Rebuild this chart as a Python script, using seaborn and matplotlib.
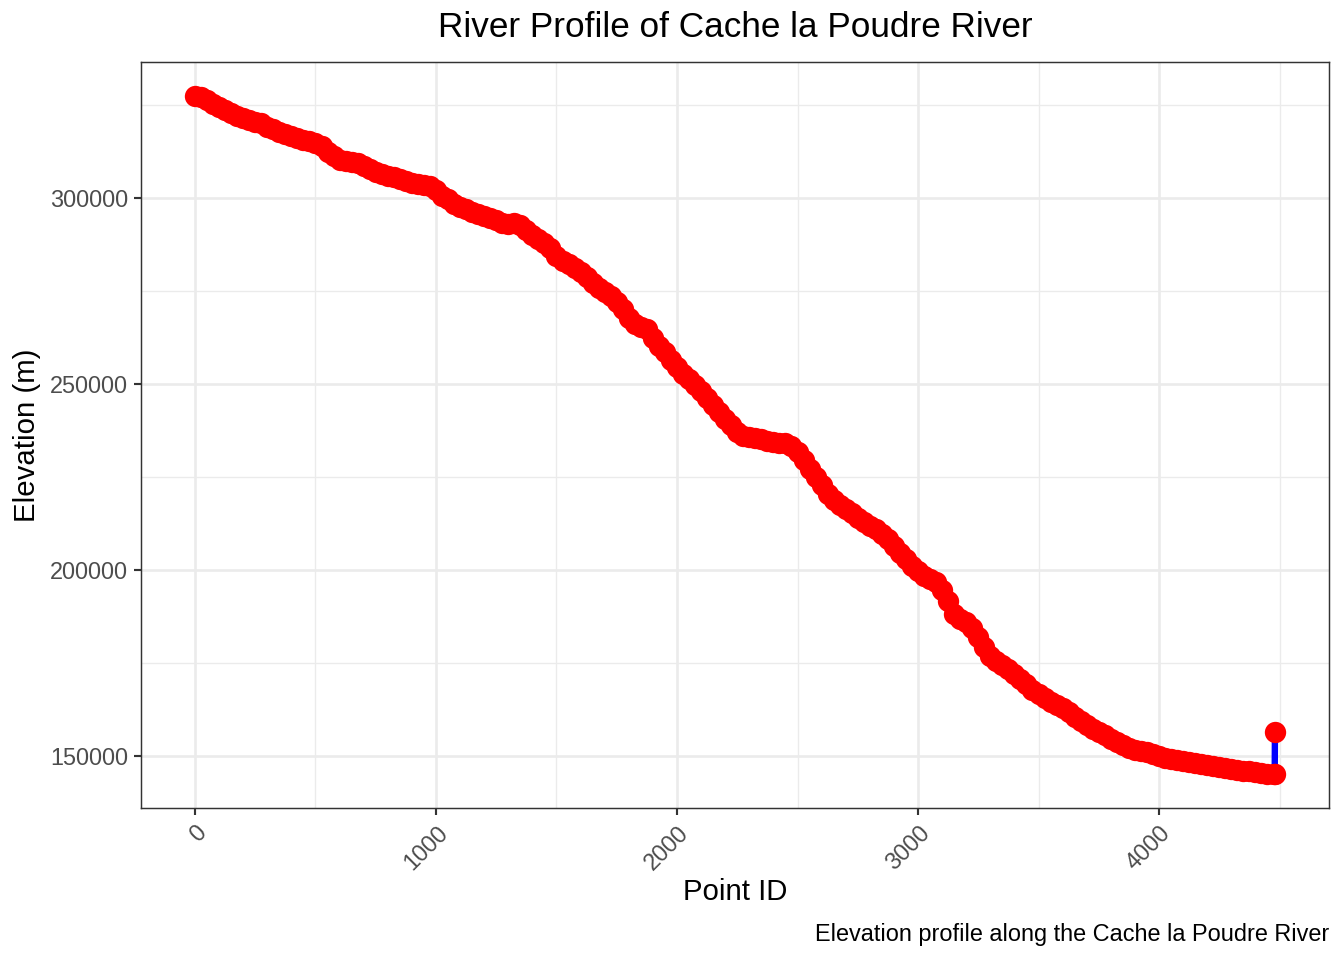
import numpy as np
import pandas as pd
import seaborn as sns
import matplotlib.pyplot as plt
from matplotlib.ticker import MultipleLocator

# point ids sampled every 25 along the river, last two are the end points
point_id = list(range(0, 4476, 25)) + [4480, 4481]

elevation = [
    327400, 327100, 326300, 325300, 324500, 323700, 322800, 322000, 321500, 321000,
    320400, 320200, 319100, 318500, 317700, 317200, 316700, 316100, 315600, 315300,
    314800, 314000, 312400, 311300, 310200, 309900, 309700, 309400, 308600, 307800,
    307000, 306500, 305900, 305600, 305100, 304600, 304000, 303800, 303500, 303200,
    302200, 300500, 299700, 298400, 297600, 297000, 296200, 295700, 295200, 294600,
    294100, 293300, 293000, 293300, 292700, 291400, 290100, 289000, 287900, 286600,
    284400, 283100, 282300, 281200, 280100, 278800, 277200, 275800, 274700, 273700,
    272000, 270200, 267700, 266100, 265300, 264800, 262400, 260200, 258600, 256500,
    254600, 252700, 251300, 249700, 248100, 246200, 244400, 242500, 240600, 239000,
    237100, 236000, 235800, 235500, 235200, 234700, 234400, 234100, 234100, 233300,
    231700, 229600, 227200, 225000, 222900, 220400, 218800, 217500, 216400, 215300,
    214000, 212900, 211800, 211000, 209700, 208300, 206500, 204600, 203000, 201100,
    199700, 198400, 197600, 196800, 194600, 191700, 188200, 186800, 186000, 184400,
    182000, 179300, 176900, 175500, 174500, 173400, 172100, 170700, 169400, 167800,
    166700, 165600, 164500, 163700, 162900, 161800, 160500, 159400, 158300, 157300,
    156500, 155700, 154600, 153800, 153000, 152200, 151600, 151400, 151100, 150600,
    150000, 149500, 149200, 148900, 148700, 148400, 148100, 147900, 147600, 147300,
    147000, 146800, 146500, 146200, 146000, 146000, 145700, 145400, 145200, 145200,
    145100, 156500,
]

x_ticks = [0, 1000, 2000, 3000, 4000]
y_ticks = [150000, 200000, 250000, 300000]

df = pd.DataFrame({"point_id": point_id, "elevation": elevation})

sns.set_theme(style="white")
plt.rcParams["font.family"] = ["Liberation Sans", "DejaVu Sans"]
plt.rcParams["text.color"] = "black"

fig, ax = plt.subplots(figsize=(7, 5), dpi=192)
fig.subplots_adjust(left=0.1049, right=0.9888, top=0.9354, bottom=0.1583)

sns.lineplot(data=df, x="point_id", y="elevation", color="blue", linewidth=2.4,
             sort=False, estimator=None, ax=ax, zorder=2)
sns.scatterplot(data=df, x="point_id", y="elevation", color="red", s=64,
                linewidth=0, ax=ax, zorder=3)

# ggplot style 5% expansion
xr = max(point_id) - min(point_id)
yr = max(elevation) - min(elevation)
ax.set_xlim(min(point_id) - 0.05 * xr, max(point_id) + 0.05 * xr)
ax.set_ylim(min(elevation) - 0.05 * yr, max(elevation) + 0.05 * yr)

ax.set_xticks(x_ticks)
ax.set_yticks(y_ticks)
ax.set_xticklabels([str(t) for t in x_ticks], rotation=45, ha="right",
                   rotation_mode="anchor")
ax.set_yticklabels([str(t) for t in y_ticks])
ax.xaxis.set_minor_locator(MultipleLocator(500))
ax.yaxis.set_minor_locator(MultipleLocator(25000))

ax.set_axisbelow(True)
ax.grid(which="major", color="#EBEBEB", linewidth=1.0)
ax.grid(which="minor", color="#EBEBEB", linewidth=0.5)
for sp in ax.spines.values():
    sp.set_color("#333333")
    sp.set_linewidth(0.55)
ax.tick_params(which="major", length=2.75, width=0.8, color="#333333",
               labelsize=8.8, labelcolor="#4D4D4D", pad=2.2,
               bottom=True, left=True)
ax.tick_params(which="minor", length=0)

ax.set_xlabel("")
ax.set_ylabel("")
fig.text(0.5469, 0.0708, "Point ID", ha="center", va="center", fontsize=11,
         color="black")
fig.text(0.020, 0.547, "Elevation (m)", ha="center", va="center",
         rotation=90, fontsize=11, color="black")
fig.text(0.5469, 0.971, "River Profile of Cache la Poudre River",
         ha="center", va="center", fontsize=13.2, color="black")
fig.text(0.9888, 0.027, "Elevation profile along the Cache la Poudre River",
         ha="right", va="center", fontsize=8.8, color="black")

fig.savefig("out.png", dpi=192)
